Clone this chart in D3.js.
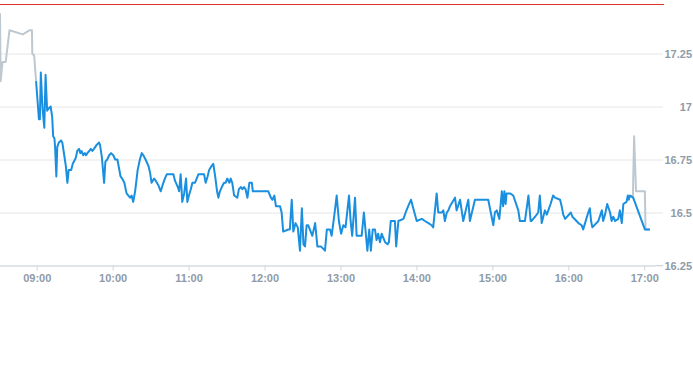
<!DOCTYPE html>
<html>
<head>
<meta charset="utf-8">
<script src="https://cdn.jsdelivr.net/npm/d3@7"></script>
<style>
  html, body { margin: 0; padding: 0; background: #fff; }
  svg { display: block; }
  text { font-family: "Liberation Sans", Arial, sans-serif; }
</style>
</head>
<body>
<svg id="chart" width="693" height="365"></svg>
<script>
// ---- data ----
const refValue = 17.48;
const yTicks = [16.25, 16.5, 16.75, 17, 17.25];
const yTickLabels = ["16.25", "16.5", "16.75", "17", "17.25"];
const xTicks = ["09:00", "10:00", "11:00", "12:00", "13:00", "14:00", "15:00", "16:00", "17:00"];
const xStart = "08:31:00", xEnd = "17:08:30";

const preTimes = ["08:31:00","08:31:30","08:33:00","08:35:30","08:38:30","08:49:00","08:54:30","08:56:15","08:56:30","08:58:00","08:59:30"];
const preValues = [17.44,17.12,17.21,17.21,17.36,17.34,17.36,17.36,17.25,17.24,17.12];

const postTimes = ["16:48:45","16:51:00","16:52:00","16:53:30","17:00:30","17:01:00","17:04:30"];
const postValues = [16.58,16.57,16.86,16.60,16.60,16.42,16.42];

const priceTimes = [
 "08:59:30","09:01:45","09:02:30","09:03:15","09:04:15","09:04:45","09:06:00","09:07:00","09:08:15","09:09:15",
 "09:11:00","09:12:15","09:13:00","09:14:00","09:14:30","09:15:30","09:16:15","09:17:30","09:19:15","09:20:15",
 "09:21:45","09:23:00","09:24:15","09:25:15","09:27:15","09:28:30","09:30:15","09:31:00","09:32:00","09:33:30",
 "09:34:30","09:35:30","09:36:45","09:38:00","09:39:00","09:40:00","09:41:30","09:42:45","09:44:00","09:45:15",
 "09:47:30","09:49:15","09:50:00","09:51:30","09:53:15","09:54:15","09:55:45","09:57:15","09:58:45","10:00:30",
 "10:02:00","10:03:45","10:05:00","10:06:15","10:07:30","10:09:15","10:11:00","10:13:45","10:15:00","10:16:15",
 "10:17:45","10:19:45","10:21:30","10:23:00","10:24:15","10:26:00","10:28:15","10:29:30","10:30:45","10:32:45",
 "10:34:00","10:36:00","10:38:00","10:39:30","10:41:15","10:42:45","10:48:00","10:49:15","10:51:30","10:52:30",
 "10:53:45","10:55:00","10:56:30","10:58:00","10:59:00","11:00:15","11:01:45","11:03:00","11:05:00","11:07:45",
 "11:12:15","11:13:30","11:15:00","11:16:15","11:18:15","11:19:30","11:21:00","11:22:30","11:23:30","11:24:45",
 "11:26:15","11:28:00","11:29:15","11:30:30","11:32:15","11:33:15","11:34:30","11:36:00","11:38:30","11:39:45",
 "11:41:15","11:42:30","11:43:45","11:45:00","11:46:30","11:48:00","11:50:00","11:50:45","12:03:00","12:05:00",
 "12:06:15","12:07:45","12:09:00","12:12:15","12:13:30","12:14:45","12:18:45","12:20:00","12:21:30","12:22:45",
 "12:24:30","12:26:15","12:28:00","12:29:30","12:30:45","12:32:00","12:33:15","12:34:30","12:37:45","12:40:00",
 "12:41:45","12:44:30","12:47:45","12:49:15","12:51:45","12:53:00","12:55:00","12:57:00","12:58:45","13:00:30",
 "13:02:15","13:04:00","13:06:45","13:08:00","13:09:15","13:11:30","13:12:45","13:14:30","13:16:45","13:18:30",
 "13:21:15","13:22:45","13:24:00","13:25:30","13:27:15","13:28:30","13:29:45","13:31:15","13:32:30","13:35:15",
 "13:37:15","13:38:15","13:39:45","13:43:00","13:44:00","13:45:45","13:49:45","13:51:30","13:53:30","13:55:45",
 "13:57:30","14:00:15","14:04:15","14:06:45","14:09:30","14:12:00","14:13:15","14:16:00","14:17:15","14:20:00",
 "14:21:15","14:22:30","14:24:00","14:25:15","14:26:30","14:30:30","14:31:45","14:34:30","14:37:00","14:39:45",
 "14:41:00","14:42:15","14:46:15","14:56:45","15:00:45","15:02:00","15:03:30","15:05:30","15:07:30","15:08:30",
 "15:09:30","15:10:30","15:11:15","15:14:00","15:16:30","15:20:30","15:21:45","15:25:45","15:28:30","15:30:15",
 "15:31:00","15:33:45","15:36:15","15:37:30","15:39:00","15:40:15","15:41:30","15:43:00","15:46:00","15:48:00",
 "15:49:30","15:53:30","15:54:45","15:56:00","15:57:30","16:02:00","16:03:15","16:06:30","16:08:00","16:10:30",
 "16:11:45","16:13:15","16:15:45","16:17:00","16:18:00","16:19:00","16:23:45","16:26:30","16:27:30","16:29:00",
 "16:30:45","16:33:00","16:34:15","16:35:30","16:37:00","16:39:30","16:40:45","16:42:15","16:43:30","16:46:00",
 "16:47:00","16:47:45","16:48:45","16:51:15","17:00:30","17:04:30"
];
const priceValues = [
 17.12,16.94,16.94,17.16,17.03,16.98,16.90,17.15,16.98,16.99,
 17.00,16.95,16.86,16.85,16.81,16.67,16.81,16.83,16.84,16.83,
 16.77,16.72,16.64,16.70,16.70,16.73,16.75,16.76,16.79,16.80,
 16.78,16.79,16.77,16.78,16.77,16.78,16.79,16.80,16.79,16.80,
 16.82,16.83,16.82,16.76,16.64,16.74,16.75,16.77,16.78,16.77,
 16.75,16.75,16.71,16.67,16.66,16.64,16.59,16.57,16.58,16.55,
 16.60,16.70,16.75,16.78,16.77,16.75,16.72,16.69,16.64,16.66,
 16.65,16.63,16.60,16.63,16.66,16.68,16.68,16.65,16.62,16.60,
 16.68,16.55,16.59,16.66,16.55,16.58,16.61,16.64,16.64,16.68,
 16.68,16.64,16.67,16.70,16.72,16.73,16.67,16.60,16.57,16.60,
 16.62,16.64,16.64,16.66,16.64,16.66,16.64,16.58,16.57,16.61,
 16.62,16.61,16.62,16.61,16.57,16.64,16.64,16.60,16.60,16.57,
 16.56,16.58,16.53,16.53,16.50,16.41,16.42,16.42,16.56,16.41,
 16.45,16.43,16.32,16.52,16.35,16.34,16.44,16.44,16.39,16.45,
 16.34,16.34,16.32,16.42,16.42,16.39,16.48,16.58,16.46,16.40,
 16.44,16.43,16.58,16.46,16.39,16.57,16.39,16.39,16.39,16.50,
 16.32,16.42,16.32,16.42,16.42,16.37,16.40,16.36,16.40,16.36,
 16.35,16.36,16.46,16.46,16.34,16.46,16.47,16.50,16.53,16.56,
 16.52,16.46,16.47,16.46,16.45,16.44,16.43,16.59,16.50,16.50,
 16.51,16.46,16.50,16.51,16.53,16.57,16.51,16.56,16.46,16.53,
 16.56,16.46,16.56,16.56,16.44,16.50,16.51,16.47,16.60,16.53,
 16.60,16.54,16.59,16.59,16.58,16.51,16.46,16.46,16.58,16.46,
 16.46,16.48,16.50,16.58,16.45,16.48,16.51,16.49,16.54,16.58,
 16.57,16.56,16.53,16.49,16.47,16.50,16.48,16.46,16.45,16.44,
 16.42,16.45,16.50,16.52,16.46,16.43,16.46,16.51,16.46,16.49,
 16.54,16.50,16.46,16.48,16.46,16.47,16.51,16.45,16.54,16.55,
 16.58,16.56,16.58,16.57,16.42,16.42
];

// ---- chart ----
const parse = d3.timeParse("%H:%M:%S");
const parseHM = d3.timeParse("%H:%M");
const svg = d3.select("#chart");
const plotRight = 655, tickLen = 8, axisY = 265.5;

const x = d3.scaleTime().domain([parse(xStart), parse(xEnd)]).range([0, plotRight]);
const y = d3.scaleLinear().domain([16.25, 17.25]).range([265.5, 53.5]);

const axisColor = "#ccd6e0", gridColor = "#e6e6e6", labelColor = "#8f9ba8";

// horizontal gridlines + right axis
const yAxis = d3.axisRight(y)
  .tickValues(yTicks)
  .tickFormat((d, i) => yTickLabels[i])
  .tickSize(plotRight + tickLen)
  .tickPadding(0);
const gy = svg.append("g").call(yAxis);
gy.select(".domain").remove();
gy.selectAll(".tick line").attr("stroke", gridColor).attr("stroke-width", 1);
gy.selectAll(".tick text")
  .attr("x", 692).attr("text-anchor", "end")
  .attr("fill", labelColor).style("font-size", "11px").style("font-weight", "bold");

// x axis
const xAxis = d3.axisBottom(x)
  .tickValues(xTicks.map(parseHM))
  .tickFormat(d3.timeFormat("%H:%M"))
  .tickSizeInner(5).tickSizeOuter(0).tickPadding(4);
const gx = svg.append("g").attr("transform", `translate(0,${axisY})`).call(xAxis);
gx.select(".domain").attr("stroke", axisColor).attr("d", `M0,0.5H${plotRight}`);
gx.selectAll(".tick line").attr("stroke", axisColor);
gx.selectAll(".tick text").attr("fill", labelColor).style("font-size", "11px").style("font-weight", "bold");
// y tick stub at baseline
svg.append("line").attr("x1", plotRight).attr("x2", plotRight + tickLen)
  .attr("y1", y(16.25)).attr("y2", y(16.25)).attr("stroke", axisColor);

// reference line
const refY = Math.floor(y(refValue)) + 0.5;
svg.append("line")
  .attr("x1", 0).attr("x2", plotRight + tickLen + 1)
  .attr("y1", refY).attr("y2", refY)
  .attr("stroke", "#e0302a").attr("stroke-width", 1.2);

const line = d3.line().x(d => x(d.t)).y(d => y(d.v));
const mk = (ts, vs) => ts.map((t, i) => ({ t: parse(t), v: vs[i] }));

svg.append("path").datum(mk(preTimes, preValues))
  .attr("d", line).attr("fill", "none").attr("stroke", "#bec8d1")
  .attr("stroke-width", 2).attr("stroke-linejoin", "round");
svg.append("path").datum(mk(postTimes, postValues))
  .attr("d", line).attr("fill", "none").attr("stroke", "#bec8d1")
  .attr("stroke-width", 2).attr("stroke-linejoin", "round");
svg.append("path").datum(mk(priceTimes, priceValues))
  .attr("d", line).attr("fill", "none").attr("stroke", "#1a8fe0")
  .attr("stroke-width", 2).attr("stroke-linejoin", "round");
</script>
</body>
</html>
